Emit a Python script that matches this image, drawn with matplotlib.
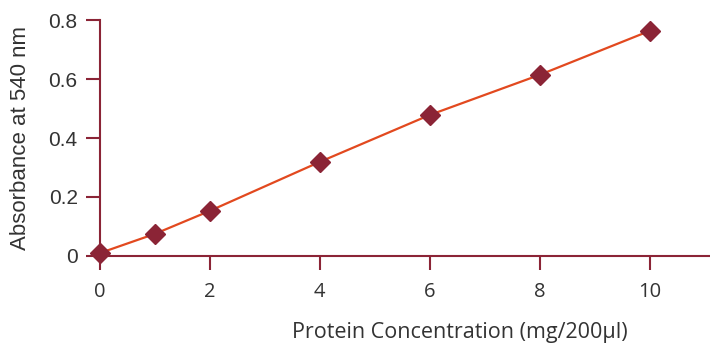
import numpy as np
import matplotlib
matplotlib.use('Agg')
import matplotlib.pyplot as plt

# protein standard curve
conc = [0, 1, 2, 4, 6, 8, 10]
absorb = [0.01, 0.075, 0.153, 0.319, 0.478, 0.614, 0.763]
xticks = [0, 2, 4, 6, 8, 10]
yticks = [0, 0.2, 0.4, 0.6, 0.8]
yticklabels = ['0', '0.2', '0.4', '0.6', '0.8']

axcol = '#8B2436'
linecol = '#E2491F'
txtcol = '#333333'

fig = plt.figure(figsize=(7.1, 3.45), dpi=100)
ax = fig.add_axes([0.1408, 0.258, 0.8592, 0.684])
ax.plot(conc, absorb, color=linecol, lw=1.6, zorder=2)
ax.plot(conc, absorb, 'D', color=axcol, ms=10, zorder=4, clip_on=False)

ax.set_xlim(0, 11.1)
ax.set_ylim(0, 0.8)
ax.set_xticks(xticks)
ax.set_yticks(yticks)
ax.set_yticklabels(yticklabels)
for s in ['top', 'right']:
    ax.spines[s].set_visible(False)
for s in ['left', 'bottom']:
    ax.spines[s].set_color(axcol)
    ax.spines[s].set_linewidth(1.5)
ax.tick_params(axis='both', direction='out', length=10, width=1.5, color=axcol, labelcolor=txtcol)
ax.tick_params(axis='x', pad=9, labelsize=14.5)
ax.tick_params(axis='y', pad=6, labelsize=15)
for t in ax.get_yticklabels():
    t.set_fontfamily('Liberation Sans')
for t in ax.get_xticklabels():
    t.set_fontfamily('Open Sans')
ax.set_ylabel('Absorbance at 540 nm', fontsize=16, family='Liberation Sans', color=txtcol, labelpad=8)
ax.set_xlabel('Protein Concentration (mg/200µl)', fontsize=15.5, family='Open Sans', color=txtcol)
ax.xaxis.set_label_coords(0.59, -0.28)
ax.yaxis.set_label_coords(-0.113, 0.5)

plt.savefig('out.png', dpi=100)
